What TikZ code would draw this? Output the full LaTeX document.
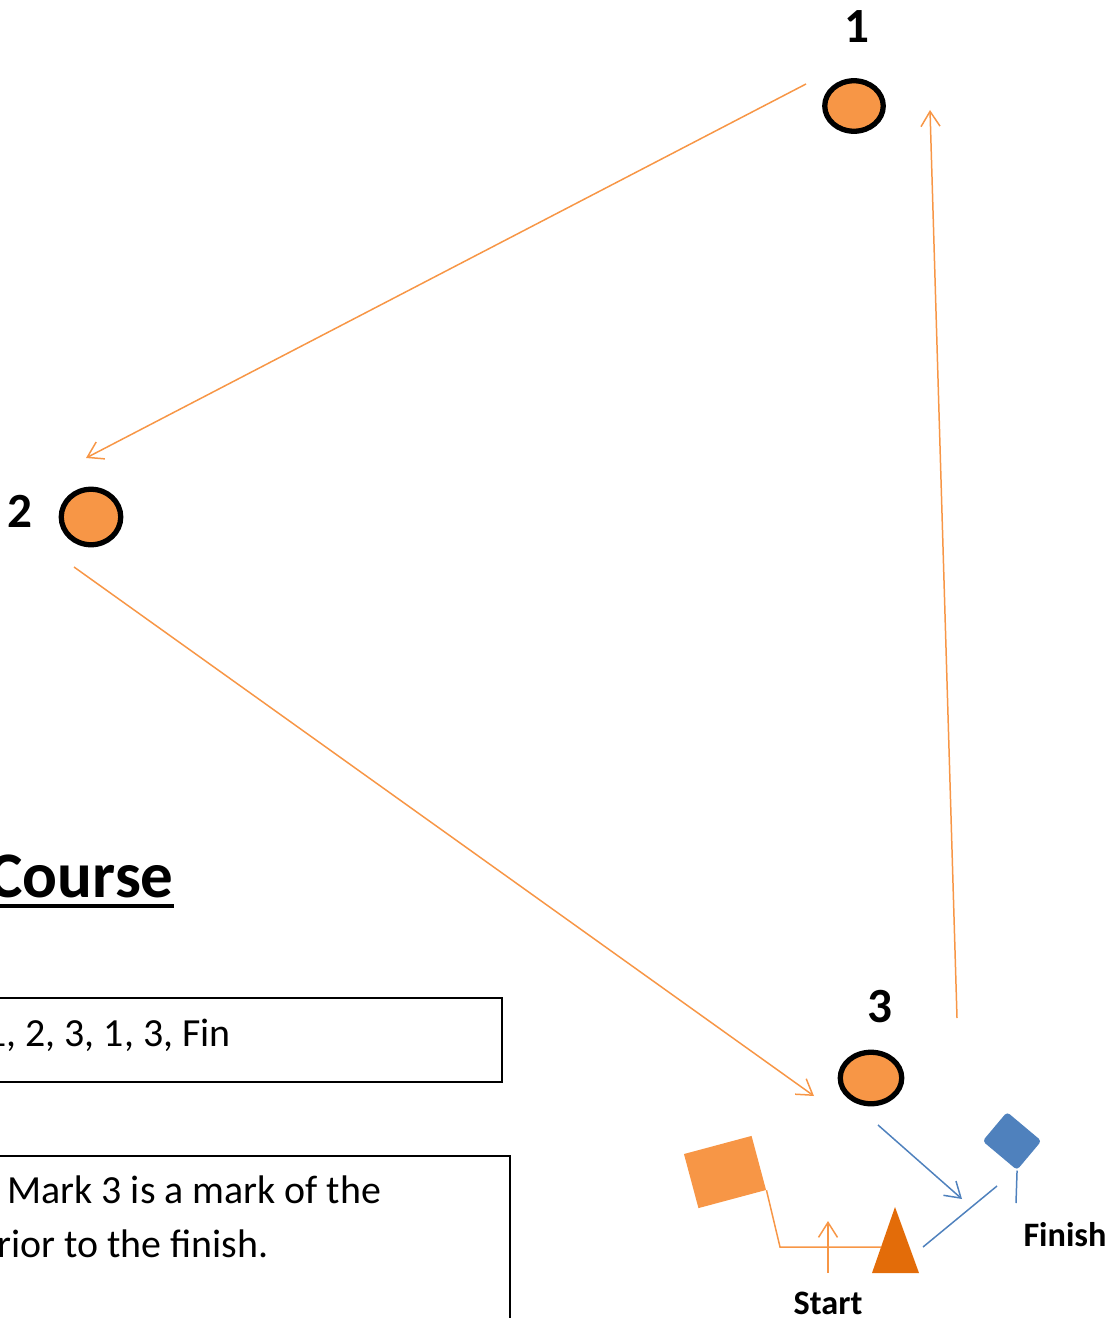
\documentclass[tikz,border=0pt]{standalone}
\usepackage{fontspec}
\setmainfont{Carlito}
\usetikzlibrary{arrows.meta, shapes.geometric, calc}
\definecolor{markOrange}{HTML}{F79646}
\definecolor{pinOrange}{HTML}{E36C09}
\definecolor{flagBlue}{HTML}{4F81BD}
\newcommand{\legArrow}{{Straight Barb[length=3mm, width=3.8mm]}}
\tikzset{
	buoy/.style={ellipse, fill=markOrange, draw=black, line width=3pt, inner sep=0pt},
	leg/.style={draw=markOrange, line width=0.85pt},
	homeleg/.style={draw=flagBlue, line width=0.85pt},
	buoynum/.style={font=\bfseries\fontsize{28}{30}\selectfont},
	linename/.style={font=\bfseries\fontsize{19.5}{22}\selectfont},
	boxtext/.style={font=\fontsize{22.7}{27}\selectfont, inner sep=0pt}
}

\begin{document}
\begin{tikzpicture}[x=0.02cm, y=-0.02cm]
	\useasboundingbox (0,0) rectangle (1109,1318);
	\clip (0,0) rectangle (1109,1318);

	\node[buoy, minimum width=1.17cm, minimum height=1.01cm] (M1) at (854,106) {};
	\node[buoy, minimum width=1.19cm, minimum height=1.11cm] (M2) at (91,517) {};
	\node[buoy, minimum width=1.23cm, minimum height=1.03cm] (M3) at (871,1078) {};
	\node[buoynum] (N1) at (857,27) {1};
	\node[buoynum] (N2) at (20,511) {2};
	\node[buoynum] (N3) at (880,1007) {3};

	\coordinate (A1) at (806,84);
	\coordinate (A2) at (86,458);
	\coordinate (B1) at (74,567);
	\coordinate (B2) at (814,1096);
	\coordinate (C1) at (957,1018);
	\coordinate (C2) at (930,110);
	\draw[leg, -\legArrow]	(A1) -- (A2);
	\draw[leg, -\legArrow]	(B1) -- (B2);
	\draw[leg, -\legArrow]	(C1) -- (C2);

	\node[rectangle, fill=markOrange, minimum width=1.4cm, minimum height=1.12cm, rotate=15] (boat) at (725,1172) {};
	\coordinate (P1) at (872,1273);
	\coordinate (P2) at (895,1207);
	\coordinate (P3) at (919,1273);
	\fill[pinOrange] (P1) -- (P2) -- (P3) -- cycle;
	\coordinate (bend) at (780,1247);
	\coordinate (pinL) at (881,1247);
	\draw[leg] (boat.south east) -- (bend) -- (pinL);
	\coordinate (S1) at (828,1273);
	\coordinate (S2) at (828,1221);
	\draw[leg, -\legArrow] (S1) -- (S2);
	\node[linename] (start) at (828,1303) {Start};

	\node[rectangle, fill=flagBlue, rounded corners=2pt, minimum width=0.9cm, minimum height=0.76cm, rotate=-40] (flag) at (1012,1141) {};
	\coordinate (F1) at (1016,1203);
	\draw[homeleg] (flag.south east) -- (F1);
	\coordinate (H1) at (878,1125);
	\coordinate (H2) at (962,1199);
	\draw[homeleg, -\legArrow] (H1) -- (H2);
	\coordinate (L1) at (923,1247);
	\coordinate (L2) at (997,1186);
	\draw[homeleg] (L1) -- (L2);
	\node[linename] (finish) at (1065,1235) {Finish};

	\node[font=\bfseries\fontsize{37}{42}\selectfont, inner sep=0pt, anchor=base east] (course) at (174,897) {Course};
	\draw[line width=0.08cm] ($(course.base west)+(0,9)$) -- ($(course.base east)+(0,9)$);

	\draw[line width=1.1pt] (-5,998) rectangle (502,1082);
	\node[boxtext, anchor=base west] (order) at (-14,1046) {1, 2, 3, 1, 3, Fin};
	\draw[line width=1.1pt] (-5,1156) rectangle (510,1340);
	\node[boxtext, anchor=base west] (noteA) at (7,1203) {Mark 3 is a mark of the};
	\node[boxtext, anchor=base west] (noteB) at (-3,1257) {rior to the finish.};
\end{tikzpicture}
\end{document}
